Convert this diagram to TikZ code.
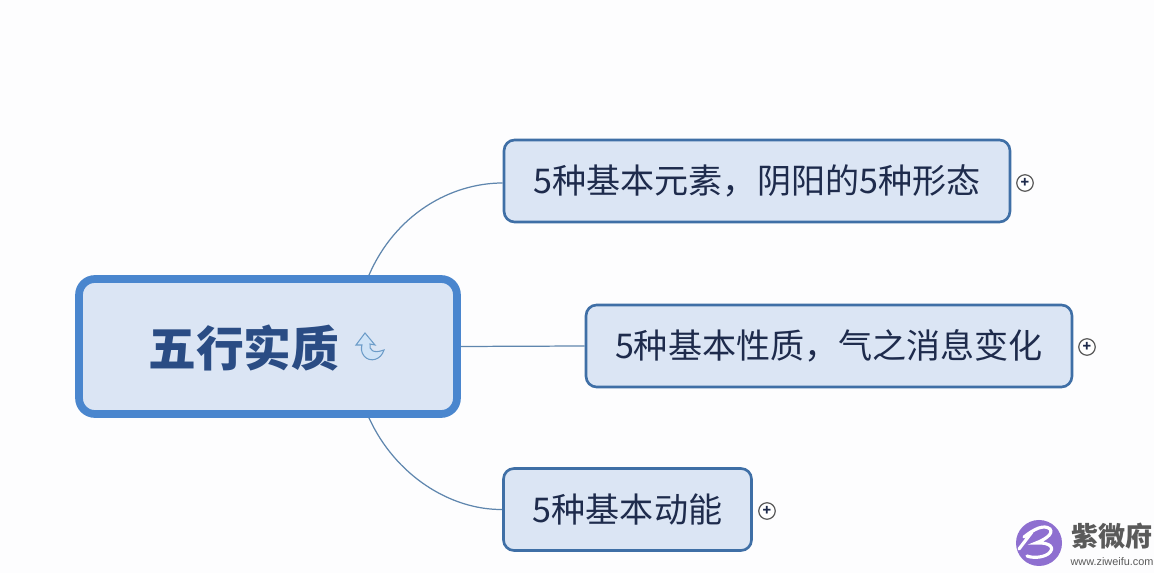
\documentclass[tikz,border=0pt]{standalone}
\usepackage{fontspec}
\setmainfont{Noto Sans CJK SC}
\newfontfamily\latinsans{Liberation Sans}
\definecolor{rootblue}{HTML}{4A86CE}
\definecolor{rootink}{HTML}{2A4C84}
\definecolor{boxfill}{HTML}{DBE5F4}
\definecolor{boxline}{HTML}{3F6FA6}
\definecolor{ink}{HTML}{1E2B4C}
\definecolor{linkblue}{HTML}{5F86AE}
\definecolor{iconblue}{HTML}{CFE3F7}
\definecolor{iconline}{HTML}{6C9CC8}
\definecolor{markpurple}{HTML}{8E6FD0}
\definecolor{markgrey}{HTML}{5A5A5A}
\definecolor{pagewhite}{HTML}{FDFDFE}
\tikzset{
rootbox/.style={draw=rootblue,fill=boxfill,line width=4.4pt,rounded corners=9pt,inner sep=0pt,minimum width=7.56cm,minimum height=2.70cm},
topicbox/.style={draw=boxline,fill=boxfill,line width=1.5pt,rounded corners=6pt,inner sep=0pt,minimum height=1.64cm,font=\fontsize{19.4}{23}\selectfont,text=ink},
plusmark/.style={draw=markgrey,fill=white,circle,line width=0.7pt,inner sep=0pt,minimum size=0.33cm,font=\fontsize{8}{8}\selectfont\bfseries,text=ink},
link/.style={draw=linkblue,line width=0.7pt}
}
\begin{document}
\begin{tikzpicture}[x=0.02cm,y=-0.02cm]
\useasboundingbox (0,0) rectangle (1154,573);
\fill[pagewhite] (0,0) rectangle (1154,573);
\node[rootbox] (root) at (268,346.5) {};
\node[text=rootink,font=\fontsize{27.2}{32}\selectfont\bfseries] (roottext) at (244,348) {五行实质};
\node[topicbox,minimum width=10.12cm] (element) at (757,181) {5种基本元素，阴阳的5种形态};
\node[topicbox,minimum width=9.72cm] (nature) at (829,346) {5种基本性质，气之消息变化};
\node[topicbox,minimum width=4.96cm] (motion) at (627.5,509.5) {5种基本动能};
\node[plusmark] (plusa) at (1025,183) {+};
\node[plusmark] (plusb) at (1087,347) {+};
\node[plusmark] (plusc) at (767,511) {+};
\draw[link] ([xshift=2.02cm]root.north) .. controls (395,215) and (450,183) .. ([yshift=-0.04cm]element.west);
\draw[link] (root.east) -- (nature.west);
\draw[link] ([xshift=2.02cm]root.south) .. controls (395,475) and (450,510) .. (motion.west);
\draw[fill=iconblue,draw=iconline,line width=0.6pt] (365,333) -- (375,345) -- (370,344) .. controls (369,350) and (373,354) .. (384,350) .. controls (381,360) and (370,363) .. (364,356) .. controls (361,352) and (361,348) .. (362,345) -- (356,345) -- cycle;
\fill[markpurple] (1039,543) circle [radius=23];
\draw[white,line width=1.8pt,line cap=round] (1024,537) .. controls (1034,529) and (1044,524) .. (1050,529) .. controls (1054,534) and (1044,540) .. (1036,543) .. controls (1050,542) and (1056,548) .. (1048,554) .. controls (1042,558) and (1032,558) .. (1027,556);
\draw[white,line width=1.8pt,line cap=round] (1019,549) -- (1032,532);
\node[text=markgrey,font=\fontsize{15.4}{18}\selectfont\bfseries] (marktext) at (1112,536) {紫微府};
\node[text=markgrey,font=\fontsize{6.2}{8}\selectfont\latinsans] (markurl) at (1112,562) {www.ziweifu.com};
\end{tikzpicture}
\end{document}
